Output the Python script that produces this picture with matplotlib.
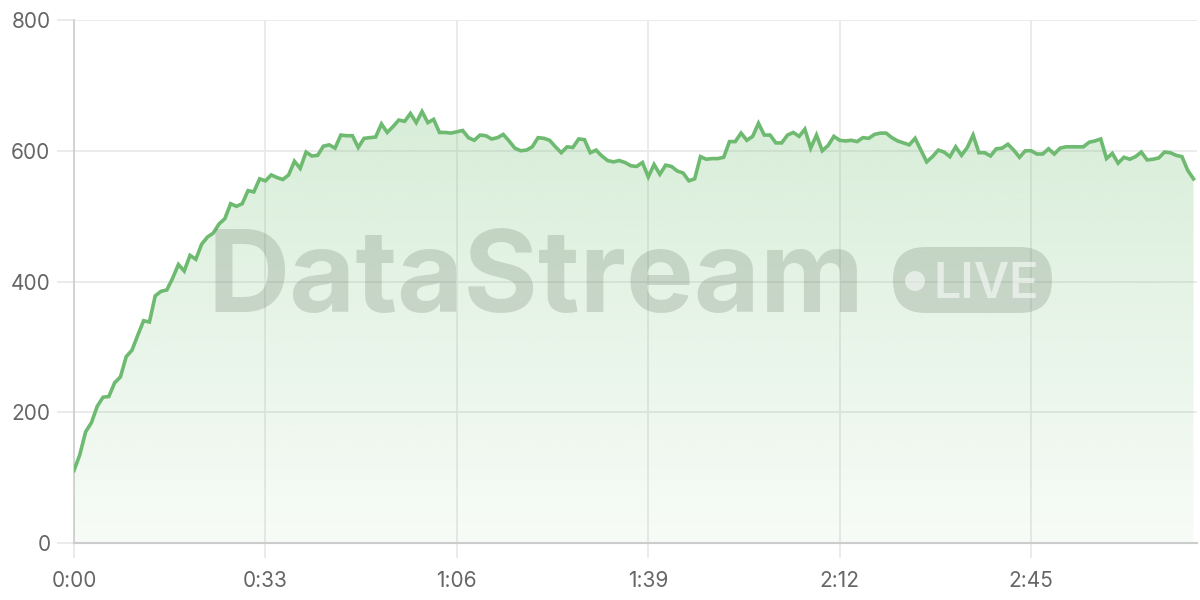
import numpy as np
import matplotlib
matplotlib.use("Agg")
import matplotlib.pyplot as plt
from matplotlib.patches import FancyBboxPatch, Circle, PathPatch
from matplotlib.path import Path

values = [111, 135, 170, 184, 209, 223, 224, 245, 254, 285, 295, 318, 340, 338, 378, 385, 387, 405, 426, 416,
          440, 434, 457, 468, 474, 488, 496, 519, 515, 519, 539, 537, 557, 554,
          563, 559, 556, 563, 584, 573, 598, 592, 593, 607, 609, 604, 624, 623, 623, 605, 619, 620, 621, 641,
          628, 637, 647, 645, 657, 643, 660, 643, 648, 628, 628, 627, 629, 631, 620, 616, 624,
          623, 618, 620, 625, 615, 604, 600, 601, 606, 620, 619, 616, 606, 597, 606, 605, 618, 617, 597, 601,
          592, 585, 583, 585, 582, 577, 576, 582, 560, 579, 564, 578, 576, 569, 566, 554, 557, 591, 587,
          588, 588, 590, 614, 614, 627, 616, 622, 642, 624, 624, 612, 612, 624, 628, 622, 633, 604, 624, 600,
          608, 622, 616, 615, 616, 614, 620, 619, 625, 627, 627, 620, 615, 612, 609, 619, 601, 583, 591, 601,
          598, 591,
          606, 593, 605, 624, 597, 597, 592, 603, 604, 610, 601, 590, 600, 600, 595, 595, 603, 595, 604, 606,
          606, 606, 606, 613, 615, 618, 588, 596, 581, 590, 587, 591, 598, 586, 587, 589, 598, 597, 593, 591,
          570, 557]
seconds = np.arange(len(values))
x_ticks = [0, 33, 66, 99, 132, 165]
x_labels = ["0:00", "0:33", "1:06", "1:39", "2:12", "2:45"]
y_ticks = [0, 200, 400, 600, 800]

plt.rcParams['font.family'] = ['Inter', 'DejaVu Sans']

W, H = 1200, 600
fig = plt.figure(figsize=(12, 6), dpi=100)
ax = fig.add_axes([74 / W, 1 - 543 / H, (1197 - 74) / W, (543 - 20) / H])
ax.set_xlim(0, 193.6)
ax.set_ylim(0, 800)

line_color = "#6dba70"

# gradient fill (bottom light -> top stronger)
grad = np.zeros((256, 1, 4))
grad[:, 0, 0:3] = matplotlib.colors.to_rgb("#7cc47f")
grad[:, 0, 3] = np.linspace(0.06, 0.30, 256)
im = ax.imshow(grad, aspect='auto', extent=[0, 193.6, 0, 660], origin='lower', zorder=1,
               interpolation='bilinear')
verts = [(seconds[0], 0)] + list(zip(seconds, values)) + [(seconds[-1], 0)]
poly = PathPatch(Path(verts), facecolor='none', edgecolor='none', transform=ax.transData)
ax.add_patch(poly)
im.set_clip_path(poly)

ax.plot(seconds, values, color=line_color, lw=2.6, zorder=4, solid_joinstyle='miter')

ax.set_xticks(x_ticks)
ax.set_xticklabels(x_labels)
ax.set_yticks(y_ticks)
ax.grid(True, color="#e8e8e8", lw=1.2, zorder=0)
ax.set_axisbelow(True)
for s in ['top', 'right']:
    ax.spines[s].set_visible(False)
ax.spines['left'].set_color("#cccccc")
ax.spines['bottom'].set_color("#cccccc")
ax.spines['left'].set_linewidth(1.2)
ax.spines['bottom'].set_linewidth(1.5)
ax.tick_params(axis='x', length=11, width=1.2, color="#e8e8e8", pad=9, labelsize=15, labelcolor="#666666")
ax.tick_params(axis='y', length=12, width=1.2, color="#e8e8e8", pad=5, labelsize=15, labelcolor="#666666")

# watermark
wm_color = (0.36, 0.43, 0.36)
fig.text(536 / W, 1 - 312 / H, "DataStream", fontsize=82, fontweight='bold', color=wm_color,
         alpha=0.22, ha='center', va='baseline', zorder=10)
badge = FancyBboxPatch((893 / W, 1 - 313 / H), (1052 - 893) / W, (313 - 247) / H,
                       boxstyle="round,pad=0,rounding_size=0.027", transform=fig.transFigure,
                       facecolor=wm_color, alpha=0.22, edgecolor='none', zorder=10,
                       mutation_aspect=2)
fig.patches.append(badge)
fig.patches.append(Circle((915, H - 281), 10, transform=None, facecolor='white', alpha=0.55,
                          edgecolor='none', zorder=11))
fig.text(986 / W, 1 - 298 / H, "LIVE", fontsize=35, fontweight='semibold', color='white', alpha=0.55,
         ha='center', va='baseline', zorder=11)

fig.savefig("out.png", dpi=100)
